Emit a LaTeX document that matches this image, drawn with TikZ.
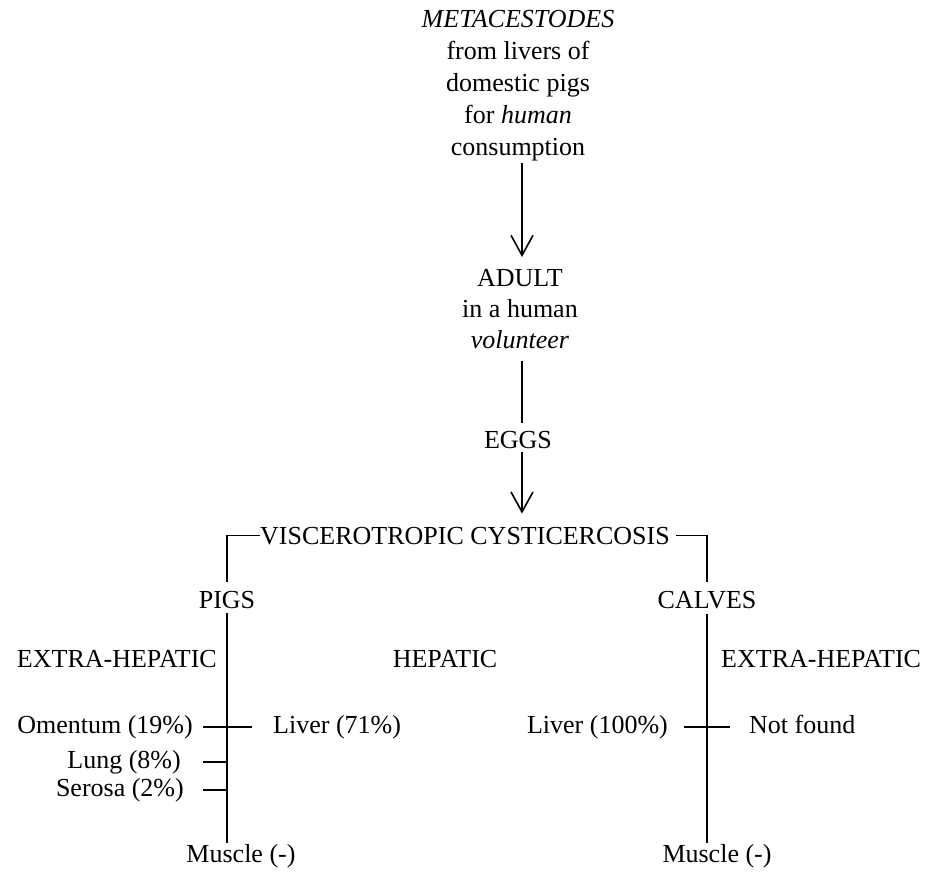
\documentclass[tikz,border=0pt]{standalone}
\usepackage{fontspec}
\setmainfont{Liberation Serif}
\usetikzlibrary{arrows.meta, positioning, calc}

\begin{document}
\begin{tikzpicture}[x=1pt, y=-1pt, >={Straight Barb[length=20pt, width=22pt]}]
        % Define styles
        \tikzstyle{txt} = [inner sep=0pt, font=\fontsize{26}{32}\selectfont]
        \tikzstyle{block} = [txt, align=center, anchor=north]
        \tikzstyle{stem} = [line width=1.6pt]
        \tikzstyle{arrow} = [stem, ->]

        \useasboundingbox (0,0) rectangle (928,872);

        % Life cycle
        \node (meta) [block] at (518,10) {\textit{METACESTODES}\\ from livers of\\ domestic pigs\\ for \textit{human}\\ consumption};
        \node (adult) [block, font=\fontsize{26}{31}\selectfont] at (520,269) {ADULT\\ in a human\\ \textit{volunteer}};
        \node (eggs) [txt, anchor=base] at (518,448) {EGGS};
        \node (visc) [txt, anchor=base] at (465,544) {VISCEROTROPIC CYSTICERCOSIS};
        \coordinate (axis) at (522,0);

        % Hosts
        \node (pigs) [txt, anchor=base] at (227,608) {PIGS};
        \node (calves) [txt, anchor=base] at (707,608) {CALVES};
        \node (extraL) [txt, anchor=base east] at (217,667) {EXTRA-HEPATIC};
        \node (hep) [txt, anchor=base] at (445,667) {HEPATIC};
        \node (extraR) [txt, anchor=base west] at (721,667) {EXTRA-HEPATIC};

        % Sites in pigs
        \node (omen) [txt, anchor=base east] at (193,733) {Omentum (19\%)};
        \node (lung) [txt, anchor=base east] at (181,768) {Lung (8\%)};
        \node (serosa) [txt, anchor=base east] at (184,796) {Serosa (2\%)};
        \node (liverP) [txt, anchor=base west] at (273,733) {Liver (71\%)};
        \node (musL) [txt, anchor=base] at (241,862) {Muscle (-)};

        % Sites in calves
        \node (liverC) [txt, anchor=base east] at (668,733) {Liver (100\%)};
        \node (nf) [txt, anchor=base west] at (749,733) {Not found};
        \node (musR) [txt, anchor=base] at (717,862) {Muscle (-)};

        % Arrows
        \draw [arrow, shorten <=2pt, shorten >=12pt] (meta.south -| axis) -- (adult.north -| axis);
        \draw [stem, shorten <=12pt, shorten >=8pt] (adult.south -| axis) -- (eggs.north -| axis);
        \draw [arrow, shorten <=4pt, shorten >=13pt] (eggs.south -| axis) -- (visc.north -| axis);

        % Branches
        \draw [stem] (visc.west) -| ([yshift=9pt]pigs.north);
        \draw [stem] ([xshift=6pt]visc.east) -| ([yshift=9pt]calves.north);
        \draw [stem, shorten <=5pt, shorten >=1pt] (pigs.south) -- (pigs |- musL.north);
        \draw [stem, shorten <=5pt, shorten >=1pt] (calves.south) -- (calves |- musR.north);

        % Ticks
        \draw [stem, shorten <=10pt, shorten >=21pt] (omen.east) -- (liverP.west);
        \draw [stem, shorten <=22pt] (lung.east) -- (lung.east -| pigs);
        \draw [stem, shorten <=19pt] (serosa.east) -- (serosa.east -| pigs);
        \draw [stem, shorten <=16pt, shorten >=19pt] (liverC.east) -- (liverC.east -| nf.west);
    \end{tikzpicture}
\end{document}
